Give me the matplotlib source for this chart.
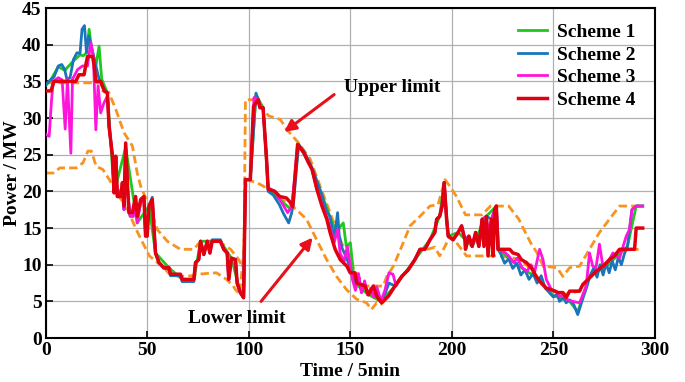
import matplotlib
matplotlib.use("Agg")
import matplotlib.pyplot as plt

plt.rcParams['font.family'] = ['Liberation Serif', 'DejaVu Serif']
plt.rcParams['font.weight'] = 'bold'

# breakpoints: (time step, power MW)
s4_t = [0, 2.5, 4, 14.7, 16.3, 18.8, 19.7, 20.5, 23, 23.8, 24.6, 27, 28.7, 30.3, 31.1, 32.8,
        33.6, 34.4, 35.2, 36.8, 37.7, 38.5, 39.3, 40.4, 40.9, 42.6, 44.2, 45, 46.7, 48.3,
        49.1, 49.9, 50.8, 52.4, 54, 55.7, 58.1, 60.6, 61.4, 66.3, 67.1, 72.9, 73.7, 75.3,
        76.2, 77.8, 79.5, 80.8, 81.9, 86, 87.6, 89.3, 90.1, 91.4, 93.4, 94.2, 95.8, 97.4,
        98.3, 100.7, 102.3, 104.6, 105.4, 107, 108.7, 109.5, 112.8, 115.2, 118.5, 120.7,
        121.6, 124, 127, 129.4, 131.1, 133.5, 136, 138.4, 140, 142.5, 145, 148.3, 149.9,
        152.3, 153.1, 157.2, 158.9, 161.3, 163, 165.4, 168.7, 172, 175.3, 178.5, 181.8,
        184.3, 186.7, 189.2, 191.6, 192.5, 194, 195.2, 196.2, 197.4, 198.2, 200.6, 203.1,
        204.8, 206.4, 206.7, 208.4, 210, 211.7, 213.3, 214.9, 215.8, 217, 217.8, 219.5,
        220.3, 221.1, 221.9, 222.7, 228.5, 230.1, 232.6, 234.2, 236.7, 239.1, 241.6, 244,
        246.5, 249, 252.3, 254.7, 256.3, 258, 262.9, 264.5, 267.8, 271.1, 275.2, 277.6,
        280.1, 282.6, 290, 290.8, 294]
s4_p = [33.7, 33.7, 35, 35, 35.9, 35.9, 37.3, 38.4, 38.4, 37.1, 35, 35, 33.7, 33.4, 28.9, 24.8,
        19.8, 24.8, 19.3, 19.3, 21.2, 18, 26.6, 19.8, 17.1, 17.1, 19.3, 16.6, 18.9, 19.3,
        13.9, 13.9, 18, 18.9, 11.6, 10.3, 9.6, 9.6, 8.7, 8.7, 8, 8, 10.3, 10.7,
        13.2, 11.4, 13.2, 11.6, 13.2, 13.2, 12.1, 11.6, 8, 10.9, 10.7, 7.5, 6.2, 5.5,
        21.6, 21.6, 31.6, 32.5, 31.4, 31.4, 24.4, 20.3, 20, 19.3, 19.1, 18.4,
        17.9, 26.4, 25.3, 23.9, 23, 20.3, 18, 16.2, 14.4, 12.1, 10.7, 9.8, 8.9,
        8.9, 7.5, 7.1, 5.9, 7.1, 5.7, 4.8, 5.7, 7.1, 8.4, 9.3, 10.7,
        12.1, 12.1, 13.4, 14.4, 16.2, 16.6, 18, 21.2, 16.2, 13.9, 13.4, 14.4,
        15.3, 13.4, 12.1, 13.9, 12.5, 14.4, 12.5, 16.2, 12.5, 16.6, 11.2, 16.2,
        11.2, 17.5, 18, 12.1, 12.1, 11.6, 11.4, 10.7, 10.3, 9.6, 8.4, 7.5,
        6.8, 6.6, 6.2, 6.2, 5.5, 6.4, 6.4, 7.3, 8.2, 9.1, 10, 10.7,
        11.2, 12.1, 12.1, 15, 15]

s3_t = [0, 1.6, 2.8, 3.6, 6.1, 8, 9.5, 10.6, 12.3, 13.1, 15.6, 18, 20.5, 22.1, 23.4, 24.6,
        25.7, 27, 28.5, 30.3, 31.1, 32.8, 33.6, 34.4, 35.2, 37.7, 38.5, 39.3, 40.4, 41.5,
        43, 44.2, 45, 46.7, 48.3, 49.1, 50.8, 52.4, 54, 55.7, 58.1, 60.6, 61.4, 66.3, 67.1,
        72.9, 73.7, 75.3, 76.2, 77.8, 79.5, 80.8, 81.9, 86, 87.6, 89.3, 90.1, 91.4, 93.4,
        94.2, 95.8, 97.4, 98.3, 100.7, 102.5, 104.6, 105.4, 107, 108.7, 109.5, 112.8, 115.2,
        119.1, 121.2, 124, 127, 129.4, 131.1, 133.5, 136, 138.4, 140, 142, 143.7, 145, 147,
        148.5, 150, 151, 152.5, 154, 155.5, 157, 158.5, 160, 161.5, 163, 165, 167, 169,
        171, 172.5, 175.3, 178.5, 181.8, 184.3, 186.7, 189.2, 191.6, 192.5, 194, 195.2,
        196.2, 197.4, 198.2, 200.6, 203.1, 204.8, 206.4, 208.4, 210, 211.7, 213.3, 214.9,
        217, 218, 219.5, 221.1, 221.9, 223.1, 226.4, 228, 230.5, 232.2, 234.6, 237, 239,
        240.7, 243.2, 244.9, 246.5, 249, 251.4, 253, 255.5, 256.3, 259.6, 262.9, 266.2,
        267.8, 269.4, 271, 272.7, 274.4, 276.8, 279.3, 282.6, 285.9, 287.5, 288.7, 290.8, 294]
s3_p = [27.8, 27.5, 32.5, 35, 35.5, 35.2, 28.5, 35.3, 25.2, 35.3, 36.6, 37.1, 37.1, 40.3, 38.4, 28.4,
        34.4, 30.7, 32, 33, 28.9, 24.8, 19.8, 24.5, 19.3, 20.5, 17.5, 26, 19.5, 16.6,
        16.6, 18.5, 15.7, 18.5, 19, 14, 18, 18.9, 11.6, 10.3, 9.6, 9.6, 8.7, 8.7, 8,
        8, 10.3, 10.7, 13.2, 11.4, 13.2, 11.6, 13.2, 13.2, 12.1, 11.6, 8, 10.9, 10.7,
        7.5, 6.2, 5.5, 21.6, 21.6, 32.8, 32.5, 31.8, 31.4, 24.4, 20.5, 20, 18.9,
        17.1, 18, 26.4, 25.3, 23.9, 23, 20.3, 18.3, 16.5, 15, 13, 14.8, 11.5, 10.5,
        12.5, 9.8, 8, 6.5, 8.8, 6.2, 7.8, 5.9, 6.8, 5.6, 7, 5, 6.5, 8.9,
        8.7, 7.1, 8.4, 9.3, 10.7, 12.1, 12.1, 13.4, 14.4, 16.2, 16.6, 18,
        21.2, 16.2, 13.9, 13.4, 14.4, 15.3, 13.4, 13.9, 12.5, 14.4, 12.5, 16.2,
        16.6, 14.4, 16.2, 17.5, 18, 12.1, 11.6, 11.2, 10.3, 10.9, 9.6, 9.1, 10,
        8.9, 12.1, 10.7, 8, 6.6, 6.4, 5.7, 5.9, 5.3, 5, 4.8, 7.1,
        11.6, 9.8, 9.6, 12.8, 9.8, 10.3, 11.6, 10.9, 13.9, 14.8, 17.5, 18, 18]

s2_t = [0, 1, 2.6, 4, 6.1, 7.8, 9.3, 10.3, 11.9, 13.6, 15.3, 16.8, 17.8, 19, 20, 21.1, 22.4,
        24.6, 26.2, 28.7, 30.3, 31.1, 32.8, 33.6, 34.4, 35.2, 37.7, 38.5, 39.3, 40.4, 41.5,
        43, 44.2, 45, 46.7, 48.3, 49.1, 50.8, 52.4, 54, 55.7, 58.1, 60.6, 61.4, 66.3, 67.1,
        72.9, 73.7, 75.3, 76.2, 77.8, 79.5, 80.8, 81.9, 86, 87.6, 89.3, 90.1, 91.4, 93.4,
        94.2, 95.8, 97.4, 98.3, 100.7, 103.5, 105.4, 107, 108.7, 109.5, 112, 115, 117,
        119.6, 121, 122, 124.5, 127, 129.4, 131, 134, 136, 138, 140, 141, 142, 143.7, 144.5,
        146, 148, 150, 152, 154, 155.5, 157, 158.5, 160, 161.5, 163, 165, 167, 169, 172,
        175.3, 178.5, 181.8, 184.3, 186.7, 189.2, 191.6, 192.5, 194, 195.2, 196.2, 197.4,
        198.2, 200.6, 203.1, 204.8, 206.4, 208.4, 210, 211.7, 213.3, 214.9, 217, 219.5,
        221.1, 221.9, 222.7, 224, 226, 228, 230, 232, 234, 236, 238, 240, 242, 244, 246,
        248, 250, 252, 253, 255, 256.3, 258, 260, 262, 263.5, 265, 266.5, 268, 270, 271.5,
        273, 274.5, 276, 277.5, 279, 280.5, 282, 283.5, 285, 286.5, 288.7, 290.8, 294]
s2_p = [34.5, 34.8, 35.3, 35.6, 37.1, 37.3, 36.6, 35.3, 35.5, 38, 38.9, 38.8, 42.1, 42.6, 38.9, 41.2, 39.7,
        37.1, 35.3, 34, 33.4, 28.9, 24.8, 19.8, 24.5, 19.3, 20.5, 17.5, 26, 19.5, 16.6,
        16.6, 18.5, 16.2, 18.5, 19, 14, 18, 19.2, 11.6, 10.3, 9.5, 9.4, 8.5, 8.5, 7.7,
        7.7, 10.3, 10.7, 13.2, 11.4, 13.2, 11.6, 13.4, 13.4, 12.1, 11.6, 8, 10.9, 10.7,
        7.5, 6.2, 5.5, 21.6, 21.6, 33.4, 31.8, 31.4, 24.4, 20, 19.5, 18.2, 17,
        15.7, 17, 18.5, 26.4, 25.5, 24.2, 23.3, 21, 19.5, 17.5, 16.5, 15, 13.5, 17.1, 14,
        12.2, 11, 9.5, 7.5, 8.5, 6.2, 7.5, 5.9, 6.6, 5.6, 6.8, 5, 6, 7.5, 7.1,
        8.4, 9.3, 10.7, 12.1, 12.1, 13.4, 14.4, 16.2, 16.6, 18, 21.2, 16.2,
        13.9, 13.4, 14.4, 15.3, 13.4, 13.9, 12.5, 14.4, 12.5, 16.2, 16.6, 16.2,
        17.5, 18, 12.1, 11.5, 10.2, 10.8, 9.5, 10.2, 8.6, 9.3, 8, 8.8, 7.5, 8.5, 6.8,
        6.2, 5.6, 6, 5, 5.5, 4.8, 5.2, 4.6, 3.2, 4.5, 5.8, 7, 8.5, 9.6, 8.3,
        10, 8.6, 10.2, 8.9, 10.5, 9.3, 11, 10, 11.5, 12.5, 17.5, 18, 18]

s1_t = [0, 2.6, 6.1, 9.3, 13.6, 16.8, 18.5, 20, 21.3, 22.4, 24.6, 26.2, 27.5, 30.3, 33.6, 39.3,
        45, 50.8, 54, 60.6, 67.1, 72.9, 76.2, 86, 91.4, 95.8, 97.4, 98.3, 100.7, 103.5, 107,
        109.5, 115, 121, 124.5, 131, 136, 140, 143, 146.5, 148, 150, 152, 158.5, 165, 172,
        181.8, 189.2, 194, 196.2, 198.2, 203.1, 210, 217, 221.9, 222.7, 232, 242, 250, 258,
        262, 268, 276, 286.5, 290.8, 294]
s1_p = [34.5, 35.3, 37, 36.5, 37.8, 38.6, 38.5, 38.9, 42.1, 39.7, 37.1, 39.8, 35.3, 33.4, 19.8, 26,
        15.7, 18, 11.6, 9.6, 8, 8, 13.2, 13.2, 10.9, 6.2, 5.5, 21.6, 21.6, 33.2, 31.4,
        20.3, 18.9, 17.5, 26.4, 23.2, 19.5, 16.5, 14.5, 15.7, 12.5, 13, 7.5, 6, 5, 7.1,
        10.7, 13.4, 16.6, 21.2, 13.9, 14.4, 12.5, 16.6, 18, 12.1, 10, 8.2, 5.8, 5,
        3.6, 8.5, 9.8, 12.5, 18, 18]

upper_t = [0, 27, 28, 31, 34.4, 38.5, 42.6, 45, 46.7, 51.6, 54.9, 59.8, 66.3, 72.8, 76.2, 85,
           91, 95, 97.5, 98.3, 102.4, 105, 109.7, 115.5, 118.8, 124.5, 130.2, 135.1, 140, 145,
           149.9, 154.8, 157, 166.2, 167.9, 171.2, 175.3, 179.4, 184.3, 189.2, 193.2, 196.6,
           199, 202.3, 206.7, 214.9, 219, 228, 233, 236.2, 238.8, 242, 245, 251.8, 254.7, 258,
           262.9, 267.8, 272.7, 277.6, 282.6, 294]
upper_p = [34.8, 34.8, 33.7, 33.5, 31.2, 28, 26.2, 22.5, 20.7, 17.5, 14.8, 13.2, 12.1, 12.1, 13.2, 13.2,
           12.1, 10.7, 9.3, 32.5, 32.5, 32, 30.3, 29.8, 28.4, 26.6, 24.4, 20.7, 17.1, 13.4,
           10.3, 8, 7.1, 7.1, 8.4, 9.8, 12.5, 15.3, 16.6, 18, 18.2, 21.6,
           20.7, 19.3, 16.8, 16.8, 18, 18, 16.2, 14.4, 13, 11.6, 9.8, 9.6, 8.4, 9.6,
           9.8, 12.1, 14.4, 16.2, 18, 18]

lower_t = [0, 3.6, 6.9, 15, 18.3, 20.7, 22.4, 24.8, 28, 31.3, 34.6, 39.5, 44.5, 47.7, 51, 54,
           58, 61, 66, 72, 74.3, 84, 89, 92.3, 93.4, 95.5, 97.4, 98.6, 103.9, 107.2, 110, 115,
           120, 123.5, 128.4, 133.4, 138.3, 143.2, 148.1, 153.1, 158, 160.4, 162.9, 165, 168.7,
           172, 175.3, 178.5, 181.8, 184.3, 188, 191.6, 194, 196.6, 199, 202.3, 207.2, 218.2,
           222.7, 228, 232.6, 236.7, 241.6, 246.5, 252.3, 256, 262.9, 267.8, 271.1, 275.2,
           280.1, 282.6, 294]
lower_p = [22.5, 22.5, 23.2, 23.2, 23.9, 25.5, 25.5, 23.4, 23, 21.6, 19.8, 18, 14.8, 13, 11.2, 10.5,
           9.6, 8.7, 8.4, 8.5, 8.7, 8.9, 8, 7.1, 6.6, 6, 11.6, 21.6, 21.2, 20.7, 20, 19,
           18.3, 17.5, 16.2, 13.4, 10.7, 8.4, 6.6, 5.3, 4.8, 3.9, 4.8, 4.6, 5.7,
           7.1, 8.4, 9.3, 10.7, 12.1, 12.1, 12.4, 11.2, 12.5, 13.9, 13, 11.2, 11.2,
           11.2, 11, 10.8, 10, 8.4, 6.8, 6.2, 6, 6.4, 8.2, 9.1, 10,
           11.2, 12.1, 12.1]

fig = plt.figure(figsize=(6.85, 3.82), dpi=100)
ax = fig.add_axes([0.067, 0.115, 0.889, 0.864])

ax.plot(upper_t, upper_p, color='#f7931e', lw=2.0, dashes=(3, 1.5), zorder=2)
ax.plot(lower_t, lower_p, color='#f7931e', lw=2.0, dashes=(3, 1.5), zorder=2)
ax.plot(s1_t, s1_p, color='#1ec81e', lw=2.0, label='Scheme 1', zorder=3)
ax.plot(s2_t, s2_p, color='#1a75bb', lw=2.0, label='Scheme 2', zorder=4)
ax.plot(s3_t, s3_p, color='#ff14dc', lw=2.0, label='Scheme 3', zorder=5)
ax.plot(s4_t, s4_p, color='#e0000f', lw=2.5, label='Scheme 4', zorder=6)

ax.set_xlim(0, 300)
ax.set_ylim(0, 45)
ax.set_xticks(range(0, 301, 50))
ax.set_yticks(range(0, 46, 5))
ax.grid(True, color='#b0b0b0', lw=0.9)
ax.set_axisbelow(True)
ax.tick_params(direction='in', length=5, width=1.2, labelsize=14, pad=3)
for sp in ax.spines.values():
    sp.set_linewidth(1.5)
for lab in ax.get_xticklabels() + ax.get_yticklabels():
    lab.set_fontweight('bold')

ax.set_xlabel('Time / 5min', fontsize=14, fontweight='bold', labelpad=3)
ax.set_ylabel('Power / MW', fontsize=14, fontweight='bold', labelpad=1)

ax.legend(loc='upper right', bbox_to_anchor=(0.993, 1.0), frameon=False,
          prop={'weight': 'bold', 'size': 14}, handlelength=1.5, handletextpad=0.5,
          labelspacing=0.25, borderaxespad=0.4)

# labels and arrows
ax.text(147, 34.2, 'Upper limit', fontsize=14, fontweight='bold', va='center', ha='left')
ax.annotate('', xy=(117.4, 28.1), xytext=(142, 33.2),
            arrowprops=dict(arrowstyle='-|>', color='#e8101a', lw=2.2,
                            mutation_scale=17, shrinkA=0, shrinkB=0))
ax.text(69.8, 2.7, 'Lower limit', fontsize=14, fontweight='bold', va='center', ha='left')
ax.annotate('', xy=(131.4, 13.7), xytext=(106, 5),
            arrowprops=dict(arrowstyle='-|>', color='#e8101a', lw=2.2,
                            mutation_scale=17, shrinkA=0, shrinkB=0))

fig.savefig('out.png', dpi=100)
